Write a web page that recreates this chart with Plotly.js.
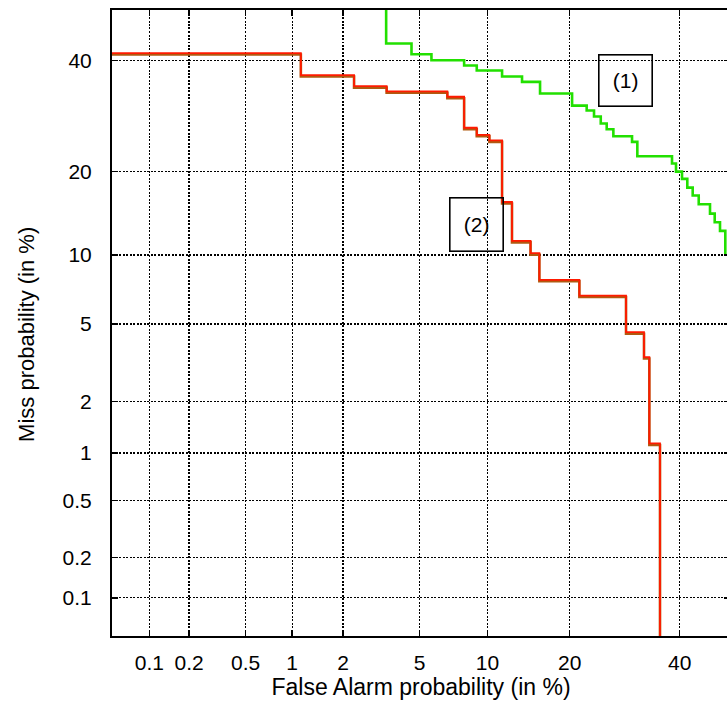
<!DOCTYPE html>
<html>
<head>
<meta charset="utf-8">
<script src="https://cdn.plot.ly/plotly-3.0.1.min.js"></script>
<style>html,body{margin:0;padding:0;overflow:hidden;background:#fff;}</style>
</head>
<body>
<div id="chart"></div>
<script>
// ---- data (percent) ----
const tickValuesPct = [0.1, 0.2, 0.5, 1, 2, 5, 10, 20, 40];
const tickLabels = ["0.1", "0.2", "0.5", "1", "2", "5", "10", "20", "40"];

// Curve (1): green DET step curve
const fa1 = [3.41, 3.41, 4.57, 5.69, 7.98, 9.03, 11.44, 13.64, 15.86, 20.36, 22.64, 23.84, 24.97, 25.99, 27.16,
             30.57, 31.57, 38.43, 39.25, 40.49, 41.59, 42.72, 43.99, 46.38, 47.38, 48.51, 49.64];
const miss1 = [60, 43.45, 41.24, 40.00, 38.93, 37.92, 36.72, 35.67, 33.40, 31.12, 30.20, 29.11, 27.85, 26.85, 25.64,
               24.70, 22.36, 21.23, 20.02, 18.96, 17.74, 16.67, 15.54, 14.40, 13.38, 12.43, 10.0];

// Curve (2): red / brown DET step curve
const fa2 = [0.01, 1.13, 2.30, 3.43, 6.73, 7.98, 9.03, 10.18, 11.44, 12.50, 14.66, 15.77, 21.48, 29.45, 32.85, 33.89, 36.0];
const miss2 = [41.17, 36.72, 34.55, 33.54, 32.50, 26.85, 25.64, 24.70, 15.64, 11.23, 10.04, 7.78, 6.64, 4.49, 3.38, 1.12, 0.001];

const labels = ["(1)", "(2)"];
const xTitle = "False Alarm probability (in %)";
const yTitle = "Miss probability (in %)";

// ---- normal deviate (probit) scale ----
function probit(p) {
  const a = [-3.969683028665376e+01, 2.209460984245205e+02, -2.759285104469687e+02, 1.383577518672690e+02, -3.066479806614716e+01, 2.506628277459239e+00];
  const b = [-5.447609879822406e+01, 1.615858368580409e+02, -1.556989798598866e+02, 6.680131188771972e+01, -1.328068155288572e+01];
  const c = [-7.784894002430293e-03, -3.223964580411365e-01, -2.400758277161838e+00, -2.549732539343734e+00, 4.374664141464968e+00, 2.938163982698783e+00];
  const d = [7.784695709041462e-03, 3.224671290700398e-01, 2.445134137142996e+00, 3.754408661907416e+00];
  const pl = 0.02425, ph = 1 - pl;
  let q, r;
  if (p < pl) {
    q = Math.sqrt(-2 * Math.log(p));
    return (((((c[0]*q+c[1])*q+c[2])*q+c[3])*q+c[4])*q+c[5]) / ((((d[0]*q+d[1])*q+d[2])*q+d[3])*q+1);
  }
  if (p <= ph) {
    q = p - 0.5; r = q * q;
    return (((((a[0]*r+a[1])*r+a[2])*r+a[3])*r+a[4])*r+a[5])*q / (((((b[0]*r+b[1])*r+b[2])*r+b[3])*r+b[4])*r+1);
  }
  q = Math.sqrt(-2 * Math.log(1 - p));
  return -(((((c[0]*q+c[1])*q+c[2])*q+c[3])*q+c[4])*q+c[5]) / ((((d[0]*q+d[1])*q+d[2])*q+d[3])*q+1);
}
const pz = arr => arr.map(v => probit(v / 100));

const FONT = "Liberation Sans, Arial, Helvetica, sans-serif";
const xLo = -3.2905, xHi = xLo + 618 / 186.9;
const yLo = -3.292, yHi = 0.012;
const dy = 1.5 / 189.5;

const traces = [
  {x: pz(fa2), y: pz(miss2), mode: "lines",
   line: {color: "#b05a10", width: 2.6, shape: "hv"}, xaxis: "x", yaxis: "y", hoverinfo: "skip", showlegend: false},
  {x: pz(fa1), y: pz(miss1), mode: "lines",
   line: {color: "#22e000", width: 2.6, shape: "hv"}, xaxis: "x", yaxis: "y", hoverinfo: "skip", showlegend: false},
  {x: pz(fa2), y: pz(miss2), mode: "lines",
   line: {color: "#ff1a00", width: 1.8, shape: "hv"}, xaxis: "x2", yaxis: "y2", hoverinfo: "skip", showlegend: false}
];

const axCommon = {
  tickmode: "array",
  tickvals: pz(tickValuesPct),
  ticktext: tickLabels,
  showgrid: true, gridcolor: "#000", gridwidth: 1.4, griddash: "2px,1.5px",
  zeroline: false,
  showline: true, linecolor: "#000", linewidth: 2, mirror: "ticks",
  ticks: "inside", ticklen: 6, tickwidth: 1.5, tickcolor: "#000",
  tickfont: {family: FONT, size: 21, color: "#000"},
  fixedrange: true
};

const layout = {
  width: 730, height: 703,
  margin: {l: 112, r: 0, t: 10, b: 67, pad: 0},
  paper_bgcolor: "#fff", plot_bgcolor: "#fff",
  font: {family: FONT, color: "#000"},
  xaxis: Object.assign({}, axCommon, {
    range: [xLo, xHi], ticklabelstandoff: 7,
    title: {text: xTitle, font: {family: FONT, size: 23, color: "#000"}, standoff: 6}
  }),
  yaxis: Object.assign({}, axCommon, {
    range: [yLo, yHi], ticklabelstandoff: 14
  }),
  xaxis2: {overlaying: "x", range: [xLo, xHi], visible: false, showgrid: false, zeroline: false, fixedrange: true},
  yaxis2: {overlaying: "y", range: [yLo - dy, yHi - dy], visible: false, showgrid: false, zeroline: false, fixedrange: true},
  annotations: [
    {xref: "paper", yref: "paper", x: -0.1375, y: 0.481, text: yTitle, textangle: -90, showarrow: false,
     xanchor: "center", yanchor: "middle", font: {family: FONT, size: 22, color: "#000"}},
    {xref: "paper", yref: "paper", x: 0.8312, y: 0.8877, text: labels[0], showarrow: false,
     xanchor: "center", yanchor: "middle", width: 50, height: 48, bordercolor: "#000", borderwidth: 1.6, borderpad: 1,
     font: {family: FONT, size: 21, color: "#000"}},
    {xref: "paper", yref: "paper", x: 0.589, y: 0.6577, text: labels[1], showarrow: false,
     xanchor: "center", yanchor: "middle", width: 50, height: 50, bordercolor: "#000", borderwidth: 1.6, borderpad: 1,
     font: {family: FONT, size: 21, color: "#000"}}
  ]
};

Plotly.newPlot("chart", traces, layout, {displayModeBar: false, staticPlot: true});
</script>
</body>
</html>
